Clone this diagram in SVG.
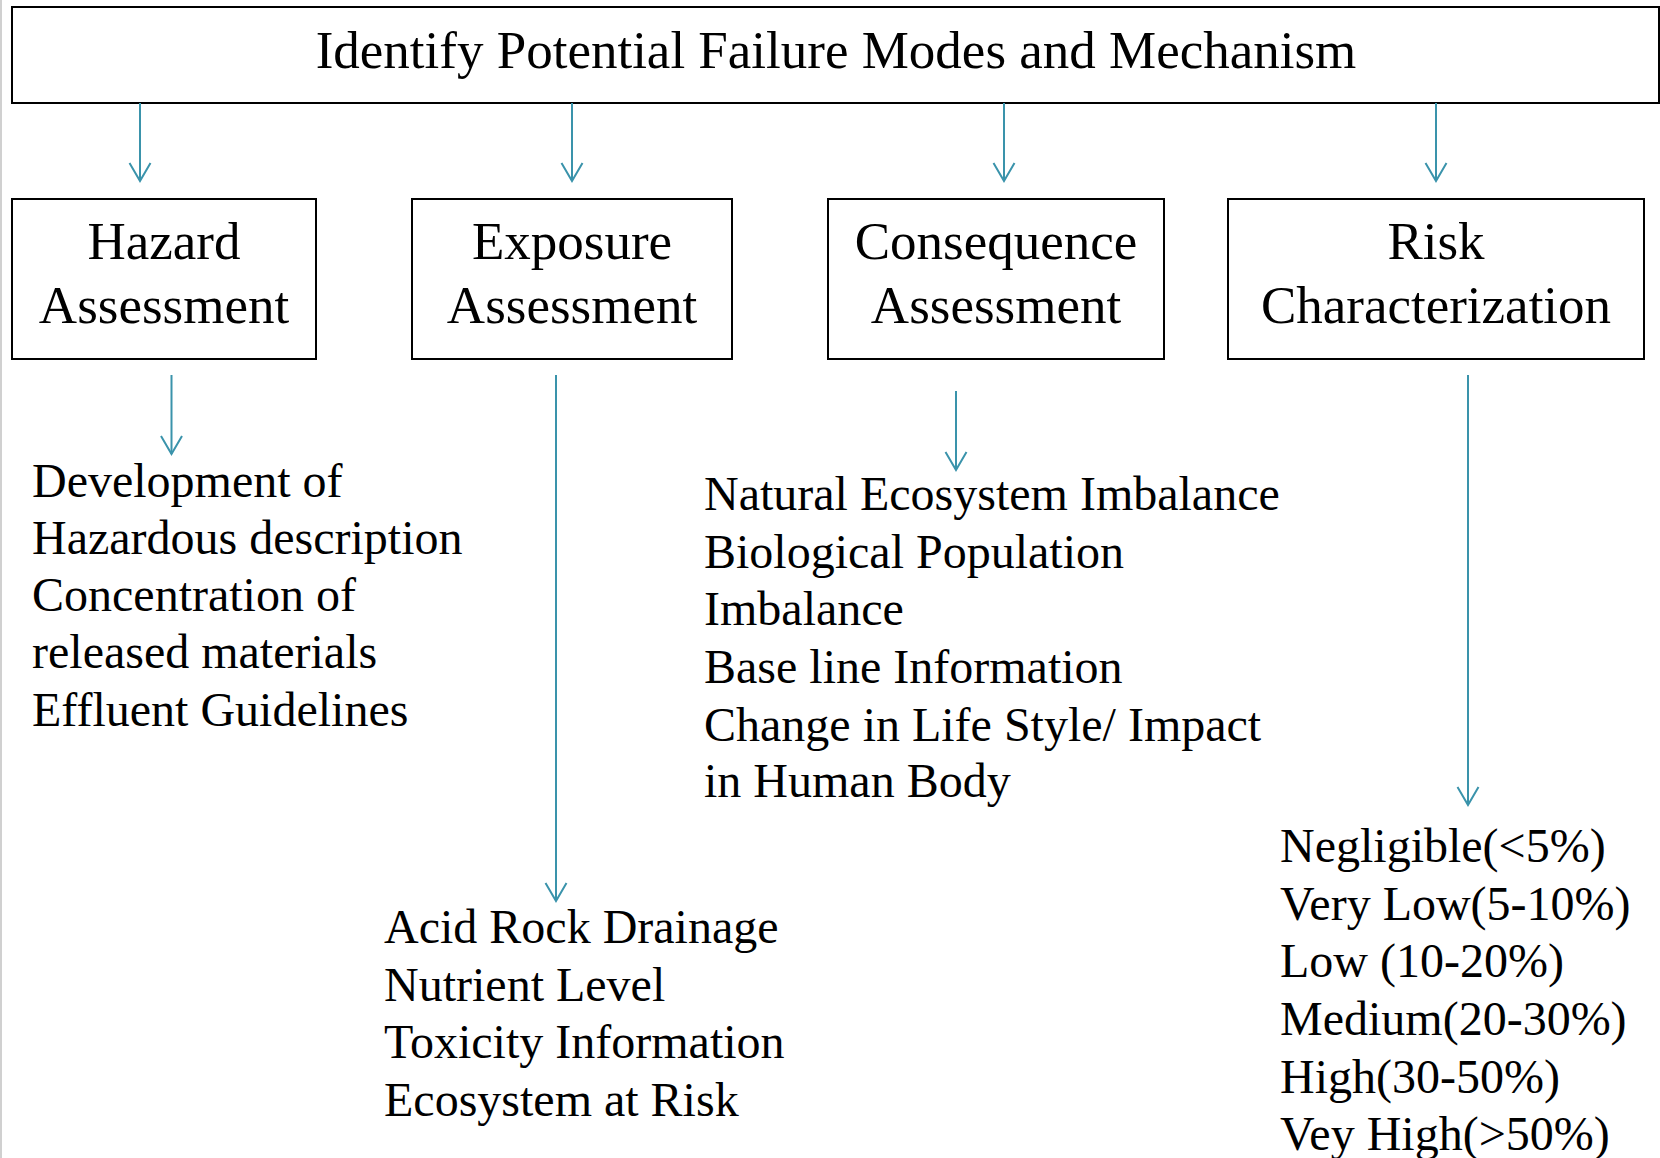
<svg xmlns="http://www.w3.org/2000/svg" width="1660" height="1158" viewBox="0 0 1660 1158">
<style>
.box{fill:#fff;stroke:#000;stroke-width:2}
.t{font-family:"Liberation Serif","Times New Roman",serif;fill:#000}
.big{font-size:53px;text-anchor:middle}
.lst{font-size:48px}
.con{stroke:#3a93ab;stroke-width:2;fill:none}
</style>
<defs>
<marker id="ah" markerWidth="22" markerHeight="24" refX="19" refY="11.5" markerUnits="userSpaceOnUse" orient="auto" viewBox="0 0 22 24">
<path d="M1,1 L19,11.5 L1,22" fill="none" stroke="#3a93ab" stroke-width="2"/>
</marker>
</defs>
<rect width="1660" height="1158" fill="#fff"/>
<line x1="1" y1="0" x2="1" y2="1158" stroke="#d0d0d0" stroke-width="2"/>
<g id="top">
<rect class="box" x="12" y="7" width="1647" height="96"/>
<text class="t big" x="836" y="68">Identify Potential Failure Modes and Mechanism</text>
</g>
<g id="hazard">
<rect class="box" x="12" y="199" width="304" height="160"/>
<text class="t big" x="164" y="259">Hazard</text>
<text class="t big" x="164" y="323">Assessment</text>
</g>
<g id="exposure">
<rect class="box" x="412" y="199" width="320" height="160"/>
<text class="t big" x="572" y="259">Exposure</text>
<text class="t big" x="572" y="323">Assessment</text>
</g>
<g id="consequence">
<rect class="box" x="828" y="199" width="336" height="160"/>
<text class="t big" x="996" y="259">Consequence</text>
<text class="t big" x="996" y="323">Assessment</text>
</g>
<g id="risk">
<rect class="box" x="1228" y="199" width="416" height="160"/>
<text class="t big" x="1436" y="259">Risk</text>
<text class="t big" x="1436" y="323">Characterization</text>
</g>
<g id="hazard-items">
<text class="t lst" x="32" y="497">Development of</text>
<text class="t lst" x="32" y="554">Hazardous description</text>
<text class="t lst" x="32" y="611">Concentration of</text>
<text class="t lst" x="32" y="668">released materials</text>
<text class="t lst" x="32" y="726">Effluent Guidelines</text>
</g>
<g id="consequence-items">
<text class="t lst" x="704" y="510">Natural Ecosystem Imbalance</text>
<text class="t lst" x="704" y="568">Biological Population</text>
<text class="t lst" x="704" y="625">Imbalance</text>
<text class="t lst" x="704" y="683">Base line Information</text>
<text class="t lst" x="704" y="741">Change in Life Style/ Impact</text>
<text class="t lst" x="704" y="797">in Human Body</text>
</g>
<g id="exposure-items">
<text class="t lst" x="384" y="943">Acid Rock Drainage</text>
<text class="t lst" x="384" y="1001">Nutrient Level</text>
<text class="t lst" x="384" y="1058">Toxicity Information</text>
<text class="t lst" x="384" y="1116">Ecosystem at Risk</text>
</g>
<g id="risk-items">
<text class="t lst" x="1280" y="862">Negligible(&lt;5%)</text>
<text class="t lst" x="1280" y="920">Very Low(5-10%)</text>
<text class="t lst" x="1280" y="977">Low (10-20%)</text>
<text class="t lst" x="1280" y="1035">Medium(20-30%)</text>
<text class="t lst" x="1280" y="1093">High(30-50%)</text>
<text class="t lst" x="1280" y="1150">Vey High(&gt;50%)</text>
</g>
<g id="connectors">
<line class="con" x1="140" y1="103" x2="140" y2="181" marker-end="url(#ah)"/>
<line class="con" x1="572" y1="103" x2="572" y2="181" marker-end="url(#ah)"/>
<line class="con" x1="1004" y1="103" x2="1004" y2="181" marker-end="url(#ah)"/>
<line class="con" x1="1436" y1="103" x2="1436" y2="181" marker-end="url(#ah)"/>
<line class="con" x1="171.5" y1="375" x2="171.5" y2="454" marker-end="url(#ah)"/>
<line class="con" x1="556" y1="375" x2="556" y2="901" marker-end="url(#ah)"/>
<line class="con" x1="956" y1="391" x2="956" y2="470" marker-end="url(#ah)"/>
<line class="con" x1="1468" y1="375" x2="1468" y2="805" marker-end="url(#ah)"/>
</g>
</svg>
